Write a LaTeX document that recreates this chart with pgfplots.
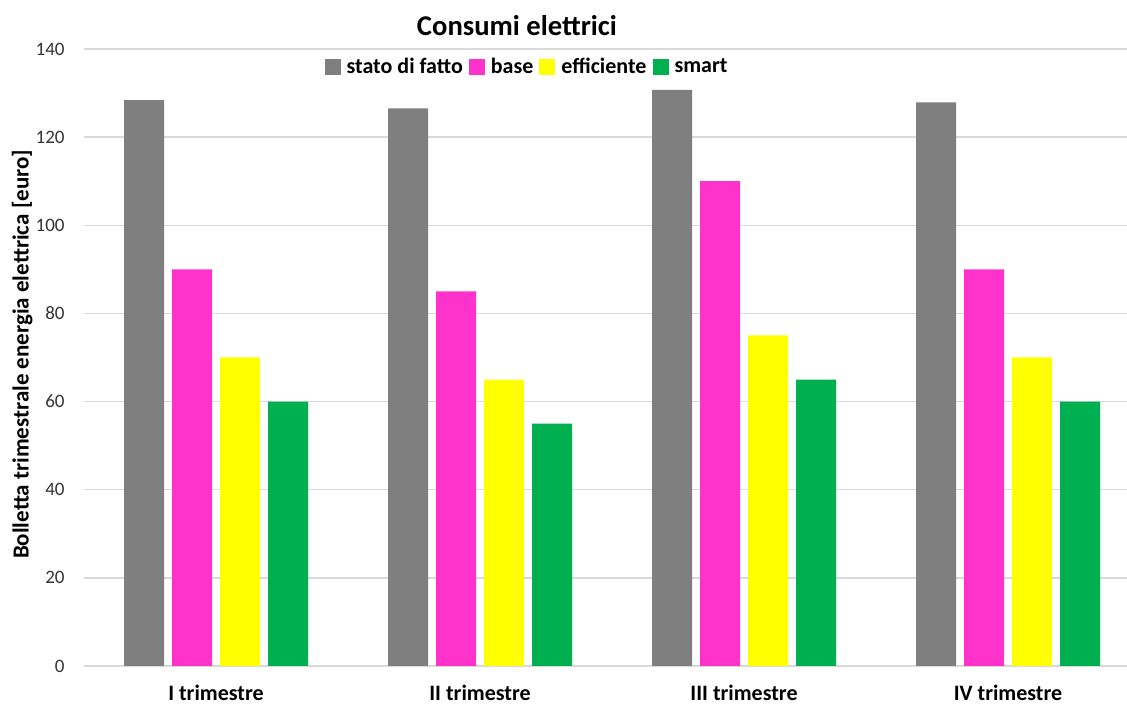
\documentclass[border=0pt]{standalone}
\usepackage{fontspec}
\setmainfont{Carlito}
\usepackage{pgfplots}
\pgfplotsset{compat=1.18}
\definecolor{cgray}{HTML}{7F7F7F}
\definecolor{cpink}{HTML}{FF33CC}
\definecolor{cyellow}{HTML}{FFFF00}
\definecolor{cgreen}{HTML}{00B050}
\definecolor{cgrid}{HTML}{D9D9D9}
\begin{document}
\begin{tikzpicture}
\useasboundingbox (0,0) rectangle (563.5pt,352pt);
\begin{axis}[
  at={(42pt,19pt)}, anchor=south west,
  scale only axis, width=528pt, height=308.5pt,
  ybar=4pt, bar width=20pt,
  xmin=-0.5, xmax=3.5, ymin=0, ymax=140,
  xtick={0,1,2,3},
  xticklabels={I trimestre, II trimestre, III trimestre, IV trimestre},
  ytick={0,20,...,140},
  /pgf/number format/assume math mode=true,
  ymajorgrids, grid style={cgrid, line width=0.75pt},
  axis line style={draw=none},
  major tick length=0pt,
  xticklabel style={font=\fontsize{11}{13}\selectfont\bfseries, anchor=center, yshift=-13.5pt, text=black},
  yticklabel style={font=\fontsize{9.5}{11}\selectfont, anchor=east, inner sep=0pt, xshift=-9.5pt, text=black!80},
  ylabel={Bolletta trimestrale energia elettrica [euro]},
  ylabel style={at={(axis description cs:-0.0585,0.505)}, anchor=center, font=\fontsize{11.5}{13}\selectfont\bfseries},
  title={Consumi elettrici},
  title style={at={(axis description cs:0.41,1.018)}, anchor=center, font=\fontsize{14.3}{16}\selectfont\bfseries},
  legend columns=4,
  legend style={at={(axis description cs:0.4205,0.971)}, anchor=center, draw=none, fill=none,
    font=\fontsize{11}{13}\selectfont\bfseries, column sep=1pt, inner sep=0pt,
    /tikz/every even column/.append style={column sep=1pt}},
  legend image code/.code={\fill[#1] (0pt,-4pt) rectangle (8pt,4pt);},
  clip=false,
]
\addplot[draw=none, fill=cgray] coordinates {(0,128.4) (1,126.5) (2,130.7) (3,127.9)};
\addplot[draw=none, fill=cpink] coordinates {(0,90) (1,85) (2,110) (3,90)};
\addplot[draw=none, fill=cyellow] coordinates {(0,70) (1,65) (2,75) (3,70)};
\addplot[draw=none, fill=cgreen] coordinates {(0,60) (1,55) (2,65) (3,60)};
\legend{stato di fatto, base, efficiente, smart}
\end{axis}
\end{tikzpicture}
\end{document}
